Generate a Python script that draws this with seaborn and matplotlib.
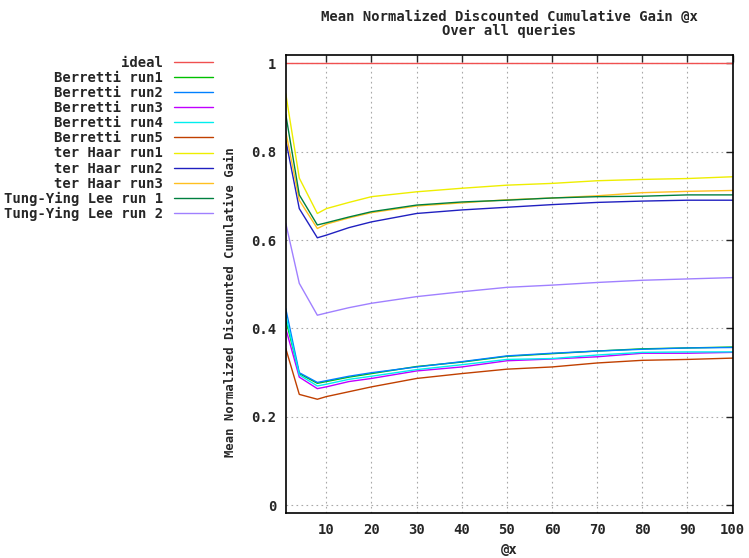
import numpy as np
import pandas as pd
import matplotlib
matplotlib.use("Agg")
import matplotlib.pyplot as plt
import seaborn as sns
from matplotlib.ticker import FuncFormatter

sns.set_style("white")
plt.rcParams['font.family'] = ['DejaVu Sans Mono']
plt.rcParams['font.weight'] = 'bold'

x_at = [1, 4, 8, 10, 15, 20, 30, 40, 50, 60, 70, 80, 90, 100]

series_names = ["ideal", "Berretti run1", "Berretti run2", "Berretti run3",
                "Berretti run4", "Berretti run5", "ter Haar run1", "ter Haar run2",
                "ter Haar run3", "Tung-Ying Lee run 1", "Tung-Ying Lee run 2"]

ideal = [1.0] * 14
berretti_run1 = [0.420, 0.298, 0.276, 0.280, 0.290, 0.298, 0.314, 0.324, 0.337, 0.343, 0.349, 0.354, 0.356, 0.358]
berretti_run2 = [0.445, 0.300, 0.278, 0.282, 0.292, 0.300, 0.313, 0.325, 0.338, 0.344, 0.349, 0.353, 0.356, 0.357]
berretti_run3 = [0.400, 0.290, 0.264, 0.268, 0.280, 0.287, 0.304, 0.313, 0.327, 0.331, 0.336, 0.344, 0.344, 0.346]
berretti_run4 = [0.430, 0.295, 0.270, 0.274, 0.285, 0.292, 0.307, 0.318, 0.330, 0.332, 0.340, 0.346, 0.347, 0.347]
berretti_run5 = [0.355, 0.251, 0.240, 0.246, 0.257, 0.268, 0.287, 0.298, 0.308, 0.313, 0.322, 0.328, 0.330, 0.333]
terhaar_run1 = [0.931, 0.740, 0.660, 0.671, 0.685, 0.698, 0.709, 0.717, 0.724, 0.728, 0.734, 0.737, 0.739, 0.743]
terhaar_run2 = [0.826, 0.671, 0.605, 0.611, 0.628, 0.641, 0.660, 0.668, 0.674, 0.680, 0.685, 0.688, 0.690, 0.690]
terhaar_run3 = [0.845, 0.690, 0.626, 0.636, 0.650, 0.662, 0.677, 0.684, 0.691, 0.695, 0.700, 0.707, 0.710, 0.712]
tyl_run1 = [0.884, 0.702, 0.634, 0.639, 0.652, 0.664, 0.679, 0.686, 0.690, 0.695, 0.698, 0.699, 0.702, 0.702]
tyl_run2 = [0.638, 0.502, 0.430, 0.435, 0.447, 0.457, 0.472, 0.483, 0.493, 0.498, 0.504, 0.509, 0.512, 0.515]

all_values = [ideal, berretti_run1, berretti_run2, berretti_run3, berretti_run4,
              berretti_run5, terhaar_run1, terhaar_run2, terhaar_run3, tyl_run1, tyl_run2]

colors = ["#f05050", "#00c000", "#0080ff", "#c000ff", "#00eeee", "#c04000",
          "#eeee00", "#2020c0", "#ffc020", "#008040", "#a080ff"]

rows = []
for name, vals in zip(series_names, all_values):
    for xv, yv in zip(x_at, vals):
        rows.append({"x": xv, "value": yv, "series": name})
df = pd.DataFrame(rows)

fig = plt.figure(figsize=(7.49, 5.58), dpi=100)
ax = fig.add_axes([0.3815, 0.080, 0.978 - 0.3815, 0.902 - 0.080])

sns.lineplot(data=df, x="x", y="value", hue="series", hue_order=series_names,
             palette=dict(zip(series_names, colors)), ax=ax, linewidth=1.0,
             legend=True, estimator=None, sort=True)

ax.set_xlim(1, 100)
ax.set_ylim(-0.018, 1.019)
ax.set_xticks([10, 20, 30, 40, 50, 60, 70, 80, 90, 100])
ax.set_yticks([0, 0.2, 0.4, 0.6, 0.8, 1.0])
ax.yaxis.set_major_formatter(FuncFormatter(lambda v, p: "%g" % round(v, 2)))
ax.grid(True, linestyle=(0, (1.5, 3)), color="#a8a8a8", linewidth=0.8)
ax.tick_params(direction="in", length=5, width=1.0, top=True, right=True,
               labelsize=10, pad=7)
for s in ax.spines.values():
    s.set_linewidth(1.2)
    s.set_color("black")

ax.set_xlabel("@x", fontsize=10, fontweight="bold", labelpad=4)
ax.set_ylabel("Mean Normalized Discounted Cumulative Gain", fontsize=8.8,
              fontweight="bold")
ax.yaxis.set_label_coords(-0.109, 0.46)
ax.set_title("Mean Normalized Discounted Cumulative Gain @x\nOver all queries",
             fontsize=10, fontweight="bold", pad=14, linespacing=1.05)

ax.get_legend().remove()
handles, labels = ax.get_legend_handles_labels()
leg = fig.legend(handles, labels, loc="upper right", bbox_to_anchor=(0.292, 0.91),
                 frameon=False, markerfirst=False, fontsize=10, handlelength=2.8,
                 labelspacing=0.08, handletextpad=0.8, borderaxespad=0)

fig.savefig("out.png", dpi=100)
